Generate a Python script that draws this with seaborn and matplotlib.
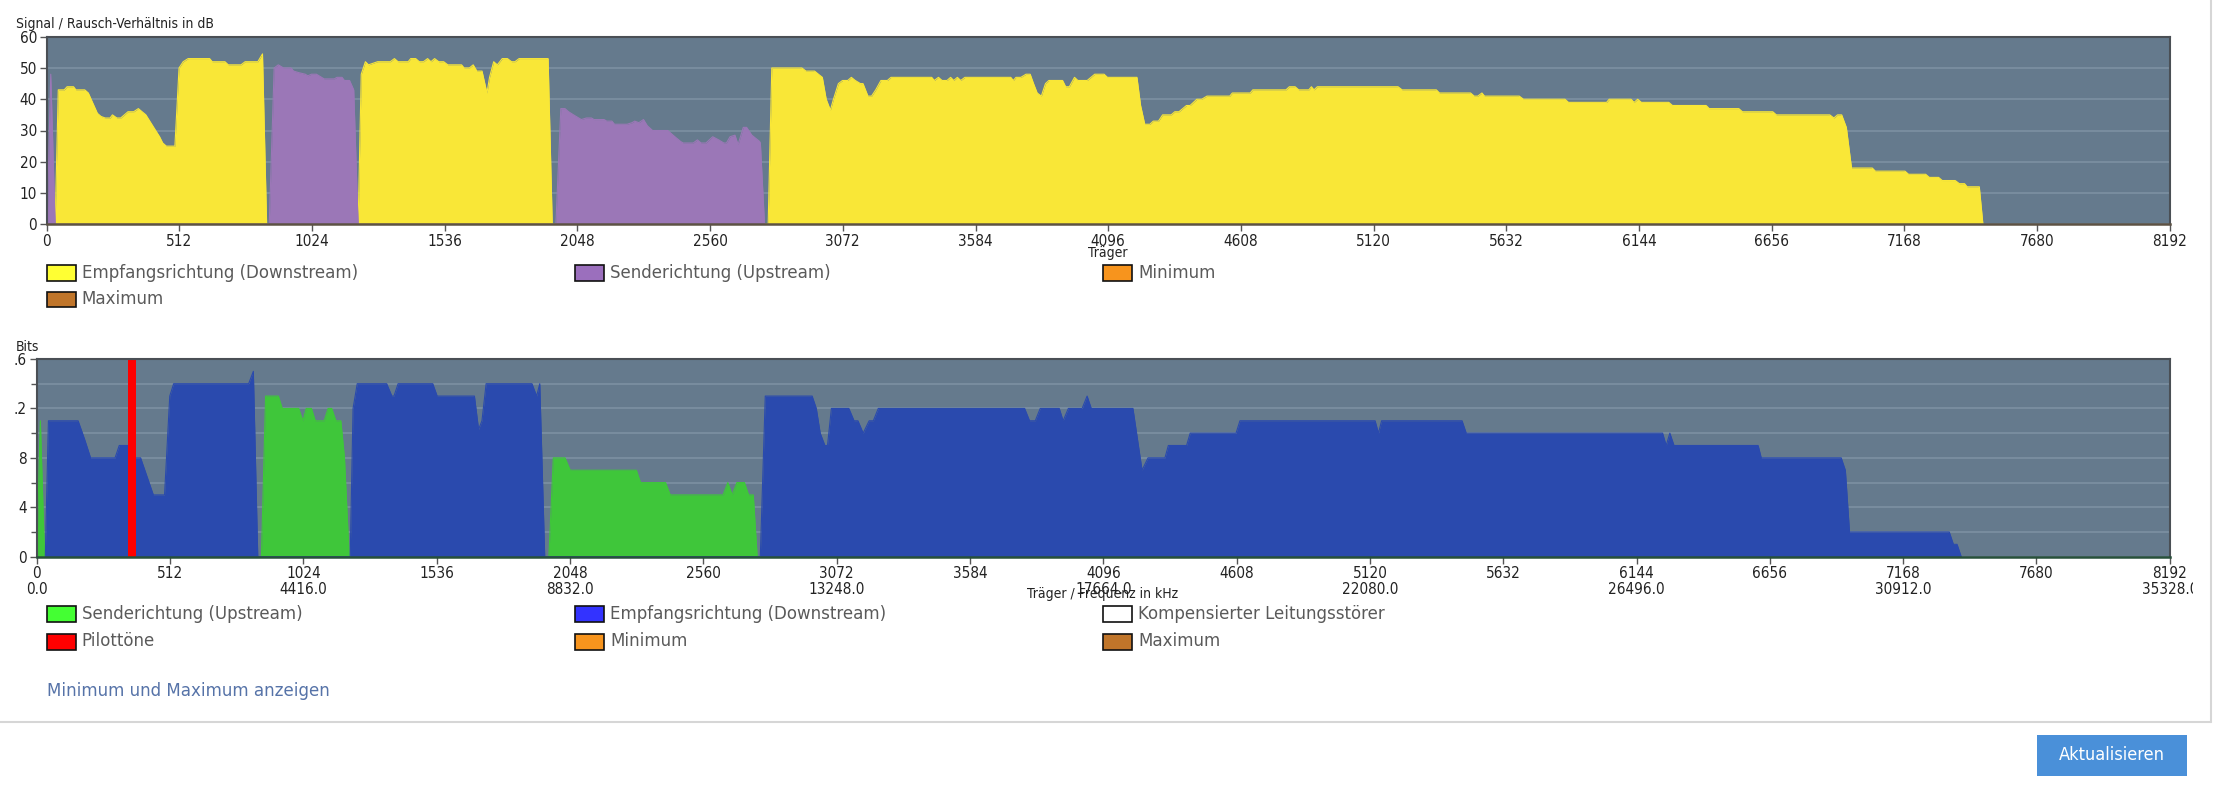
import numpy as np
import pandas as pd
import matplotlib
matplotlib.use("Agg")
import matplotlib.pyplot as plt
import seaborn as sns
from matplotlib import font_manager
from matplotlib.patches import Rectangle
from matplotlib.lines import Line2D

# ---------------- data ----------------
carrier_ticks = list(range(0, 8193, 512))
freq_per_carrier_khz = 4.3125

# SNR (dB) - downstream
snr_ds_x = [33, 45, 68, 79, 104, 113, 147, 161, 177, 196, 210, 226, 245, 254, 271, 286, 314, 336, 354, 383, 413, 436, 448, 462, 495, 511, 527, 546, 629, 639, 688, 701, 750, 766, 815, 833, 849,
            1202, 1214, 1230, 1242, 1277, 1326, 1342, 1356, 1395, 1405, 1424, 1438, 1454, 1470, 1483, 1497, 1513, 1532, 1548, 1601, 1611, 1631, 1646, 1660, 1680, 1699, 1709, 1725, 1739, 1758, 1778, 1794, 1807, 1823, 1935, 1951,
            2784, 2798, 2914, 2930, 2963, 2993, 3008, 3024, 3036, 3055, 3071, 3091, 3105, 3120, 3140, 3150, 3169, 3183, 3199, 3219, 3244, 3258, 3415, 3425, 3441, 3455, 3474, 3488, 3500, 3514, 3527, 3543, 3720, 3730, 3740, 3759, 3779, 3795, 3808, 3822, 3838, 3854, 3867, 3920, 3932, 3946, 3966, 3979, 4015, 4044, 4080, 4093, 4207, 4221, 4237, 4257, 4270, 4290, 4306, 4339, 4353, 4369, 4398, 4412, 4438, 4457, 4477, 4565, 4575, 4644, 4654, 4782, 4795, 4817, 4831, 4870, 4880, 4890, 4903, 5214, 5230, 5362, 5374, 5494, 5508, 5522, 5538, 5548, 5682, 5698, 5858, 5872, 6019, 6029, 6113, 6125, 6139, 6153, 6259, 6273, 6403, 6415, 6529, 6543, 6660, 6674, 6880, 6896, 6910, 6926, 6944, 6964, 7044, 7056, 7170, 7184, 7250, 7264, 7300, 7314, 7364, 7380, 7400, 7410, 7457, 7471]
snr_ds_db = [0, 43, 43, 44, 44, 43, 43, 42, 39, 35.5, 34.5, 34, 34, 35, 34, 34, 36, 36, 37, 35, 31, 28, 26, 25, 25, 50, 52, 53, 53, 52, 52, 51, 51, 52, 52, 54.5, 0,
             0, 48, 52, 51, 52, 52, 53, 52, 52, 53, 53, 52, 52, 53, 52, 53, 52, 52, 51, 51, 50, 50, 51, 49, 49, 42, 47, 52, 51, 53, 53, 52, 52, 53, 53, 0,
             0, 50, 50, 49, 49, 47, 40, 36.5, 40, 45, 46, 46, 47, 46, 45, 45, 41, 41, 43, 46, 46, 47, 47, 46, 47, 46, 46, 47, 46, 47, 46, 47, 47, 46, 47, 47, 48, 48, 45, 42, 41, 45, 46, 46, 44, 44, 47, 46, 46, 48, 48, 47, 47, 38, 32, 32, 33, 33, 35, 35, 36, 36, 38, 38, 40, 40, 41, 41, 42, 42, 43, 43, 44, 44, 43, 43, 44, 43, 44, 44, 43, 43, 42, 42, 41, 41, 42, 41, 41, 40, 40, 39, 39, 40, 40, 39, 40, 39, 39, 38, 38, 37, 37, 36, 36, 35, 35, 34, 35, 35, 31, 18, 18, 17, 17, 16, 16, 15, 15, 14, 14, 13, 13, 12, 12, 0]

# SNR (dB) - upstream
snr_us_x = [2, 16, 33,
            859, 878, 894, 914, 943, 953, 973, 998, 1008, 1022, 1041, 1071, 1110, 1120, 1140, 1149, 1169, 1185, 1202,
            1965, 1984, 2000, 2014, 2033, 2053, 2063, 2083, 2102, 2112, 2151, 2161, 2181, 2191, 2240, 2259, 2269, 2285, 2303, 2318, 2338, 2397, 2417, 2446, 2456, 2495, 2511, 2525, 2544, 2570, 2593, 2613, 2623, 2637, 2656, 2668, 2688, 2701, 2721, 2751, 2754, 2770]
snr_us_db = [0, 48, 0,
             0, 50, 51, 50, 50, 49, 48.5, 48, 47.5, 48, 48, 46.5, 46.5, 47, 47, 46, 46, 43, 0,
             0, 37, 37, 36, 35, 34, 33.5, 34, 34, 33.5, 33.5, 33, 33, 32, 32, 32.5, 33, 32.5, 33.5, 31.5, 30, 30, 28.5, 26.5, 26, 26, 27, 26, 26, 28, 27, 26, 26, 28, 28.5, 25.5, 31, 31, 28.5, 26.5, 26, 0]

# Bits - upstream
bits_us_x = [0, 14, 30,
             863, 879, 928, 943, 1006, 1022, 1035, 1055, 1070, 1104, 1119, 1133, 1149, 1168, 1182, 1200,
             1967, 1984, 2029, 2049, 2303, 2319, 2415, 2433, 2636, 2654, 2671, 2689, 2718, 2734, 2752, 2767]
bits_us = [0, 11, 0,
           0, 13, 13, 12, 12, 11, 12, 12, 11, 11, 12, 12, 11, 11, 8, 0,
           0, 8, 8, 7, 7, 6, 6, 5, 5, 6, 5, 6, 6, 5, 5, 0]

# Bits - downstream
bits_ds_x = [33, 45, 159, 184, 207, 301, 317, 350, 366, 399, 448, 491, 511, 526, 814, 832, 849,
             1204, 1215, 1231, 1344, 1364, 1372, 1388, 1521, 1538, 1681, 1697, 1710, 1726, 1902, 1920, 1932, 1951,
             2779, 2798, 2978, 2994, 3009, 3027, 3037, 3052, 3119, 3139, 3154, 3174, 3197, 3213, 3232, 3794, 3813, 3835, 3854, 3927, 3942, 3962, 4015, 4034, 4050, 4210, 4224, 4245, 4268, 4333, 4346, 4416, 4430, 4606, 4621, 5140, 5153, 5165, 5474, 5490, 6244, 6258, 6272, 6288, 6611, 6623, 6930, 6946, 6962, 7345, 7361, 7375, 7391]
bits_ds = [0, 11, 11, 9.5, 8, 8, 9, 9, 8, 8, 5, 5, 13, 14, 14, 15, 0,
           0, 12, 14, 14, 13, 13, 14, 14, 13, 13, 10.3, 11, 14, 14, 13, 14, 0,
           0, 13, 13, 12, 10, 9, 9, 12, 12, 11, 11, 10, 11, 11, 12, 12, 11, 11, 12, 12, 11, 12, 12, 13, 12, 12, 10, 7, 8, 8, 9, 9, 10, 10, 11, 11, 10, 11, 11, 10, 10, 9, 10, 9, 9, 8, 8, 7, 2, 2, 1, 1, 0]

# Pilot tone carriers
pilot_start = [352]
pilot_end = [382]

snr_ticks = [0, 10, 20, 30, 40, 50, 60]
bits_ticks = [0, 4, 8, 12, 16]
bits_tick_labels = ["0", "4", "8", ".2", ".6"]
bits_minor = [2, 6, 10, 14]

legend_top = [("Empfangsrichtung (Downstream)", "#ffff33"), ("Senderichtung (Upstream)", "#9b6fbd"),
              ("Minimum", "#f7941d"), ("Maximum", "#c0752a")]
legend_bottom = [("Senderichtung (Upstream)", "#44ff33"), ("Empfangsrichtung (Downstream)", "#3333ff"),
                 ("Kompensierter Leitungsstörer", "#ffffff"), ("Pilottöne", "#ff0000"),
                 ("Minimum", "#f7941d"), ("Maximum", "#c0752a")]

# ---------------- style ----------------
sns.set_theme(style="white")


def find_condensed():
    pref = ["Noto Sans", "Open Sans", "Roboto", "DejaVu Sans", "Liberation Sans Narrow", "Liberation Sans", "Lato"]
    found = []
    for f in font_manager.fontManager.ttflist:
        s = str(f.stretch).lower()
        fn = f.fname.lower().replace("-", "").replace("_", "")
        cond = ("condensed" in s or "narrow" in s or "condensed" in fn or "narrow" in fn) and "semicondensed" not in fn
        if not cond or f.style != "normal":
            continue
        if "bold" in fn or "light" in fn or "thin" in fn or "medium" in fn or "black" in fn or "semi" in fn or "extra" in fn:
            continue
        if f.name in pref:
            found.append((pref.index(f.name), f))
    if found:
        found.sort(key=lambda t: t[0])
        return found[0][1]
    return None


cf = find_condensed()
if cf is not None:
    plt.rcParams["font.family"] = [cf.name, "DejaVu Sans"]
    plt.rcParams["font.stretch"] = "condensed"
    font_manager.fontManager.addfont(cf.fname)
    S_TICK, S_TITLE, S_LEG, S_LINK, S_BTN = 11, 10, 13.3, 13.3, 13
else:
    plt.rcParams["font.family"] = ["DejaVu Sans"]
    S_TICK, S_TITLE, S_LEG, S_LINK, S_BTN = 9, 8.5, 12, 11.5, 11.5

BG = "#657a8d"
GRID = "#7b8ea0"
YELLOW = "#f9e737"
PURPLE = "#9b77b7"
BLUE = "#2a4aae"
GREEN = "#3fc63a"
TXT = "#222222"
LEG = "#5a5a5a"

W, H = 2215, 788
fig = plt.figure(figsize=(W / 100, H / 100), dpi=100)
fig.patch.set_facecolor("white")


def fx(px):
    return px / W


def fy(py):
    return 1 - py / H


ax1 = fig.add_axes([fx(46.6), fy(224.3), (2169.8 - 46.6) / W, (224.3 - 36.7) / H])
ax2 = fig.add_axes([fx(36.7), fy(556.7), (2169.8 - 36.7) / W, (556.7 - 359) / H])


def area(ax, x, y, color):
    df = pd.DataFrame({"x": x, "y": y})
    ax.fill_between(df["x"], 0, df["y"], color=color, lw=0, zorder=2)
    sns.lineplot(data=df, x="x", y="y", ax=ax, color=color, lw=0.8, estimator=None,
                 sort=False, legend=False, zorder=2)


area(ax1, snr_ds_x, snr_ds_db, YELLOW)
area(ax1, snr_us_x, snr_us_db, PURPLE)
area(ax2, bits_us_x, bits_us, GREEN)
area(ax2, bits_ds_x, bits_ds, BLUE)
for s, e in zip(pilot_start, pilot_end):
    ax2.fill_between([s, e], 0, [bits_ticks[-1], bits_ticks[-1]], color="#ff0000", lw=0, zorder=3)

for ax in (ax1, ax2):
    ax.set_facecolor(BG)
    ax.set_xlim(0, 8192)
    ax.set_xlabel("")
    ax.set_ylabel("")
    ax.set_xticks(carrier_ticks)
    for s in ["top", "left", "right"]:
        ax.spines[s].set_color("#4a4f55")
        ax.spines[s].set_linewidth(1.5)
        ax.spines[s].set_zorder(5)
    ax.spines["bottom"].set_linewidth(1.8)
    ax.spines["bottom"].set_zorder(5)
    ax.tick_params(axis="both", which="major", direction="out", length=5, width=1,
                   color="#555555", labelsize=S_TICK, labelcolor=TXT, pad=2,
                   bottom=True, left=True)
    ax.set_axisbelow(True)

ax1.spines["bottom"].set_color("#5d5244")
ax2.spines["bottom"].set_color("#27503a")

ax1.set_ylim(0, 60)
ax1.set_yticks(snr_ticks)
ax1.set_xticklabels([str(t) for t in carrier_ticks])
ax1.yaxis.grid(True, color=GRID, lw=1.3)

ax2.set_ylim(0, 16)
ax2.set_yticks(bits_ticks)
ax2.set_yticklabels(bits_tick_labels)
ax2.set_yticks(bits_minor, minor=True)
ax2.tick_params(axis="y", which="minor", direction="out", length=4, width=1, color="#555555", left=True)
ax2.yaxis.grid(True, which="both", color=GRID, lw=1.3)
lab2 = []
for t in carrier_ticks:
    if t % 1024 == 0:
        lab2.append(f"{t}\n{t * freq_per_carrier_khz:.1f}")
    else:
        lab2.append(f"{t}")
ax2.set_xticklabels(lab2, linespacing=1.05, va="top")

# axis titles
fig.text(fx(15.5), fy(24), "Signal / Rausch-Verhältnis in dB", ha="left", va="center", size=S_TITLE, color=TXT)
fig.text(fx(1108), fy(252.5), "Träger", ha="center", va="center", size=S_TITLE, color=TXT)
fig.text(fx(15.5), fy(346.5), "Bits", ha="left", va="center", size=S_TITLE, color=TXT)
fig.text(fx(1103), fy(594), "Träger / Frequenz in kHz", ha="center", va="center", size=S_TITLE, color=TXT)

# legends
cols = [46.6, 575, 1103]


def draw_legend(items, rows_y):
    for i, (label, col) in enumerate(items):
        cx = cols[i % 3]
        cy = rows_y[i // 3]
        fig.patches.append(Rectangle((fx(cx), fy(cy + 8)), 29 / W, 16 / H, transform=fig.transFigure,
                                     facecolor=col, edgecolor="#111111", lw=1.2, zorder=6))
        fig.text(fx(cx + 35), fy(cy), label, ha="left", va="center", size=S_LEG, color=LEG)


draw_legend(legend_top, [272.5, 299.5])
draw_legend(legend_bottom, [614, 641.5])

fig.text(fx(47), fy(691.5), "Minimum und Maximum anzeigen", ha="left", va="center", size=S_LINK, color="#5673a8")

# page decorations
fig.patches.append(Rectangle((fx(2193), fy(610)), 17 / W, 60 / H, transform=fig.transFigure,
                             facecolor="white", edgecolor="none", zorder=7))
fig.add_artist(Line2D([0, fx(2211)], [fy(722), fy(722)], transform=fig.transFigure, color="#d6d6d6", lw=1.5, zorder=8))
fig.add_artist(Line2D([fx(2211), fx(2211)], [fy(0), fy(722)], transform=fig.transFigure, color="#d6d6d6", lw=1.5, zorder=8))
fig.patches.append(Rectangle((fx(2037), fy(776)), 150 / W, 41 / H, transform=fig.transFigure,
                             facecolor="#4a90d9", edgecolor="none", zorder=6))
fig.text(fx(2112), fy(755.5), "Aktualisieren", ha="center", va="center", size=S_BTN, color="white", zorder=9)

fig.savefig("out.png", dpi=100, facecolor="white")
